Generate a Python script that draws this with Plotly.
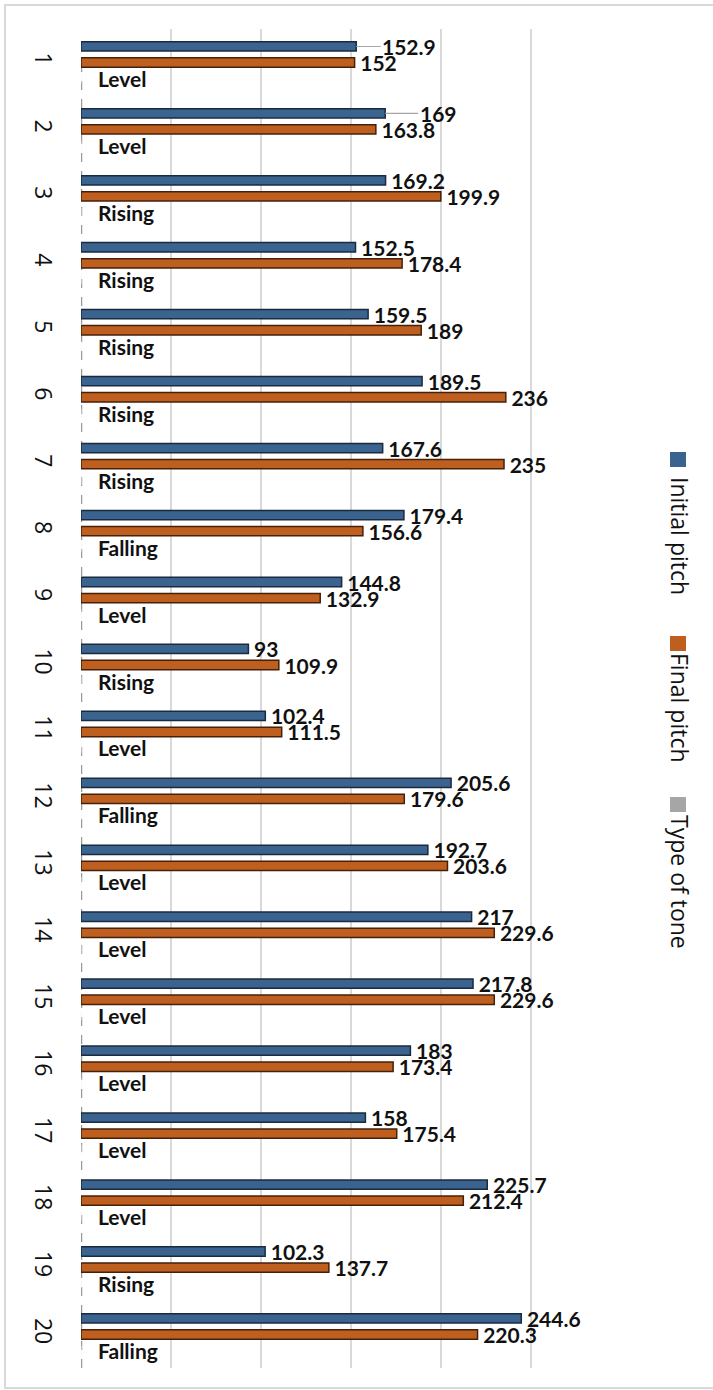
import plotly.graph_objects as go

categories = [str(i) for i in range(1, 21)]
initial_pitch = [152.9, 169, 169.2, 152.5, 159.5, 189.5, 167.6, 179.4, 144.8, 93,
                 102.4, 205.6, 192.7, 217, 217.8, 183, 158, 225.7, 102.3, 244.6]
final_pitch = [152, 163.8, 199.9, 178.4, 189, 236, 235, 156.6, 132.9, 109.9,
               111.5, 179.6, 203.6, 229.6, 229.6, 173.4, 175.4, 212.4, 137.7, 220.3]
tone_type = ["Level", "Level", "Rising", "Rising", "Rising", "Rising", "Rising", "Falling",
             "Level", "Rising", "Level", "Falling", "Level", "Level", "Level", "Level",
             "Level", "Level", "Rising", "Falling"]
tone_value = [0] * 20
series_names = ["Initial pitch", "Final pitch", "Type of tone"]
leader_idx = [0, 1]  # initial-pitch labels drawn with a leader line

W, H = 713, 1390
ML, MR, MT, MB = 81, 92, 29, 22
PW, PH = W - ML - MR, H - MT - MB

def px(xp):
    return (xp - ML) / PW

def py(yp):
    return (H - MB - yp) / PH

BLUE = "#3a6390"
BLUE_LINE = "#1b2b3e"
ORANGE = "#bf5f1f"
ORANGE_LINE = "#45200a"
GRAY = "#a6a6a6"
LABEL_FONT = dict(family="Lato", size=21, color="#111111", weight="bold")

def fmt(v):
    return f"{v:g}"

init_text = ["" if i in leader_idx else fmt(v) for i, v in enumerate(initial_pitch)]
final_text = [fmt(v) for v in final_pitch]

fig = go.Figure()
fig.add_trace(go.Bar(
    y=categories, x=initial_pitch, orientation="h", name=series_names[0],
    marker=dict(color=BLUE, line=dict(color=BLUE_LINE, width=1.5)),
    text=init_text, texttemplate="\u2009%{text}", textposition="outside", textfont=LABEL_FONT,
    constraintext="none", cliponaxis=False,
))
fig.add_trace(go.Bar(
    y=categories, x=final_pitch, orientation="h", name=series_names[1],
    marker=dict(color=ORANGE, line=dict(color=ORANGE_LINE, width=1.5)),
    text=final_text, texttemplate="\u2009%{text}", textposition="outside", textfont=LABEL_FONT,
    constraintext="none", cliponaxis=False,
))
fig.add_trace(go.Bar(
    y=categories, x=tone_value, orientation="h", name=series_names[2],
    marker=dict(color=GRAY),
))

annotations = []
# tone labels (third series); y given as category index
for i, t in enumerate(tone_type):
    annotations.append(dict(
        x=0, y=i, xref="x", yref="y", text=t, showarrow=False,
        xanchor="left", yanchor="middle", xshift=15, yshift=-16,
        font=dict(family="Lato", size=21, color="#111111", weight="bold"),
    ))
# leader-line labels
for i in leader_idx:
    annotations.append(dict(
        x=initial_pitch[i], y=i, xref="x", yref="y", text=fmt(initial_pitch[i]),
        showarrow=True, arrowhead=0, arrowwidth=1.2, arrowcolor="#a6a6a6",
        ax=53, ay=0, yshift=16, font=LABEL_FONT,
    ))

# manual rotated legend
legend_items = [
    (series_names[0], BLUE, 452, 536),
    (series_names[1], ORANGE, 636, 708),
    (series_names[2], GRAY, 797, 882),
]
shapes = []
for name, col, sq_top, txt_c in legend_items:
    shapes.append(dict(type="rect", xref="paper", yref="paper",
                       x0=px(670), x1=px(686), y0=py(sq_top + 15), y1=py(sq_top),
                       fillcolor=col, line=dict(width=0)))
    annotations.append(dict(
        x=px(680), y=py(txt_c), xref="paper", yref="paper", text=name,
        showarrow=False, textangle=90, xanchor="center", yanchor="middle",
        font=dict(family="Open Sans", size=23, color="#111111"),
    ))

# dashed line for the zero-length "Type of tone" bars
shapes.append(dict(type="line", xref="x", yref="paper", x0=0, x1=0,
                   y0=0.0, y1=py(60), layer="between",
                   line=dict(color="#9a9a9a", width=2.5, dash="dash")))
# outer chart border
shapes.append(dict(type="rect", xref="paper", yref="paper",
                   x0=px(5), x1=px(715), y0=py(1388), y1=py(5),
                   line=dict(color="#d9d9d9", width=2), fillcolor="rgba(0,0,0,0)"))

fig.update_layout(
    width=W, height=H,
    margin=dict(l=ML, r=MR, t=MT, b=MB, pad=0),
    paper_bgcolor="white", plot_bgcolor="white",
    barmode="group", bargap=0.28, bargroupgap=0.42,
    showlegend=False,
    annotations=annotations, shapes=shapes,
    xaxis=dict(range=[0, 300], dtick=50, showgrid=True, gridcolor="#d9d9d9", gridwidth=2,
               showticklabels=False, zeroline=False,
               showline=False, fixedrange=True),
    yaxis=dict(autorange="reversed", tickangle=90, ticks="", showgrid=False,
               tickfont=dict(family="Open Sans", size=23, color="#111111"),
               ticklabelstandoff=22, showline=False, zeroline=False),
)

fig.write_html("out.html")
